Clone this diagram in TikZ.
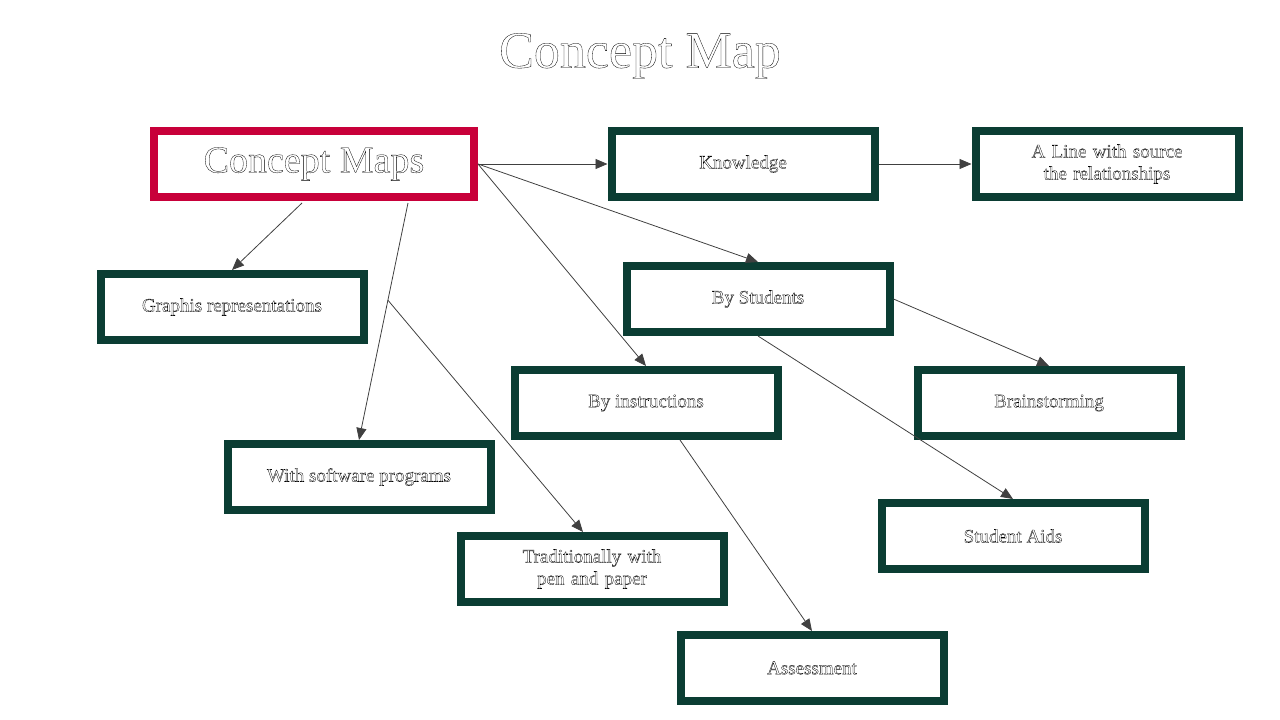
\documentclass[tikz,border=0pt]{standalone}
\usepackage{fontspec}
\setmainfont{Liberation Serif}
\usetikzlibrary{arrows.meta}
\definecolor{mapred}{HTML}{C8003A}
\definecolor{mapgreen}{HTML}{0B3D33}
\newcommand{\outl}[1]{\special{pdf:literal direct 1 Tr 0.3 w}#1\special{pdf:literal direct 0 Tr}}
\begin{document}
\begin{tikzpicture}[x=1pt,y=-1pt]
    %
    % `concept' is for the boxes, `link' for the arrows.
    \tikzstyle{concept} = [draw=mapgreen,line width=8pt,fill=white,minimum width=263pt,minimum height=66pt,inner sep=0pt,align=center,font=\fontsize{19}{22}\selectfont]
    \tikzstyle{link} = [draw=black!75,line width=0.8pt,-{Triangle[length=12pt,width=10pt]}]
    \useasboundingbox (0,0) rectangle (1280,720);
    %
    % Title
    \node (title) at (640,56) {\fontsize{52}{60}\selectfont\outl{Concept Map}};
    %
    % Top row
    \node[concept,draw=mapred,minimum width=320pt] (cm) at (314,164) {\fontsize{38}{44}\selectfont\outl{Concept Maps}};
    \node[concept] (know) at (743,164) {\outl{Knowledge}};
    \node[concept,text width=240pt] (line) at (1107,164) {\outl{A Line with source the relationships}};
    %
    % Other boxes
    \node[concept] (graph) at (232,307) {\outl{Graphis representations}};
    \node[concept] (stud) at (758,299) {\outl{By Students}};
    \node[concept] (instr) at (646,403) {\outl{By instructions}};
    \node[concept] (brain) at (1049,403) {\outl{Brainstorming}};
    \node[concept] (soft) at (359,477) {\outl{With software programs}};
    \node[concept] (aids) at (1013,536) {\outl{Student Aids}};
    \node[concept,text width=240pt] (trad) at (592,569) {\outl{Traditionally with pen and paper}};
    \node[concept] (assess) at (812,668) {\outl{Assessment}};
    %
    % Links
    \coordinate (cmA) at (302,203);
    \coordinate (cmB) at (408,203);
    \draw[link] (cmA) -- (graph.north);
    \draw[link] (cmB) -- coordinate[pos=0.41] (fork) (soft.north);
    \draw[link] (fork) -- ([xshift=-9pt]trad.north);
    \draw[link] (cm.east) -- (know.west);
    \draw[link] (cm.east) -- (stud.north);
    \draw[link] (cm.east) -- (instr.north);
    \draw[link] (know.east) -- (line.west);
    \draw[link] (stud.east) -- (brain.north);
    \draw[link] (stud.south) -- (aids.north);
    \draw[link] ([xshift=34pt]instr.south) -- (assess.north);
    %
\end{tikzpicture}
\end{document}
